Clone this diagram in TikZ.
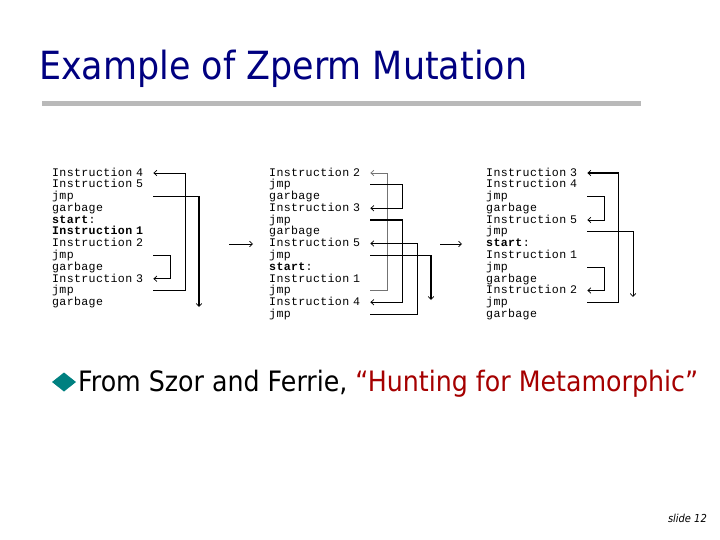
\documentclass[tikz,border=0pt]{standalone}
\usepackage{fontspec}
\usetikzlibrary{arrows.meta}
\newfontfamily\tahoma[FakeStretch=0.9]{DejaVu Sans}
\newfontfamily\codefont[LetterSpace=3]{Liberation Mono}
\definecolor{navy}{RGB}{0,0,128}
\definecolor{tealb}{RGB}{0,128,128}
\definecolor{qred}{RGB}{165,0,0}
\definecolor{sepgray}{RGB}{185,185,185}
\begin{document}
\begin{tikzpicture}[x=1pt,y=-1pt,
  code/.style={anchor=west, inner sep=0pt, text width=101pt, align=left,
    text height=7pt, text depth=0.5pt,
    font=\codefont\fontsize{11.6}{11.6}\selectfont, text=black},
  wire/.style={line width=0.8pt},
  heavy/.style={line width=1.4pt},
  light/.style={line width=0.6pt, black!55},
  barb/.style={-{Straight Barb[length=3pt,width=5.5pt,line width=0.7pt]}}]
\useasboundingbox (0,0) rectangle (720,540);

% title and separator
\node[anchor=base west, inner sep=0pt, text=navy,
  font=\tahoma\fontsize{38.8}{38.8}\selectfont] (title) at (39,80) {Example of Zperm Mutation};
\fill[sepgray] (42,101) rectangle (641,106);

% column 1
\foreach \t [count=\i] in {Instruction 4, Instruction 5, jmp, garbage,
  \textbf{start}:, \textbf{Instruction 1}, Instruction 2, jmp, garbage,
  Instruction 3, jmp, garbage}
  \node[code] (a\i) at (52,{173+11.75*(\i-1)}) {\t};
% column 2
\foreach \t [count=\i] in {Instruction 2, jmp, garbage, Instruction 3, jmp,
  garbage, Instruction 5, jmp, \textbf{start}:, Instruction 1, jmp,
  Instruction 4, jmp}
  \node[code] (b\i) at (269,{173+11.75*(\i-1)}) {\t};
% column 3
\foreach \t [count=\i] in {Instruction 3, Instruction 4, jmp, garbage,
  Instruction 5, jmp, \textbf{start}:, Instruction 1, jmp, garbage,
  Instruction 2, jmp, garbage}
  \node[code] (c\i) at (486,{173+11.75*(\i-1)}) {\t};

% column 1 connectors
\coordinate (ea) at (199,307);
\draw[wire, barb] (a11.east) -- ++(32,0) |- (a1.east);
\draw[heavy, barb] (a3.east) -| (ea);
\draw[wire, barb] (a8.east) -- ++(17,0) |- (a10.east);

% column 2 connectors
\coordinate (eb) at (431,300);
\draw[light, barb] (b11.east) -- ++(17,0) |- (b1.east);
\draw[heavy, barb] (b2.east) -- ++(32,0) |- (b4.east);
\draw[heavy, barb] (b5.east) -- ++(32,0) |- (b12.east);
\draw[wire, barb] (b13.east) -- ++(47,0) |- (b7.east);
\draw[heavy, barb] (b8.east) -| (eb);

% column 3 connectors
\coordinate (ec) at (633,297);
\draw[heavy, barb] (c12.east) -- ++(31,0) |- (c1.east);
\draw[wire, barb] (c3.east) -- ++(17,0) |- (c5.east);
\draw[wire, barb] (c6.east) -| (ec);
\draw[wire, barb] (c9.east) -- ++(17,0) |- (c11.east);

% arrows between columns
\coordinate (s1) at (229,244); \coordinate (t1) at (253,244);
\coordinate (s2) at (440,244); \coordinate (t2) at (462,244);
\draw[wire, barb] (s1) -- (t1);
\draw[wire, barb] (s2) -- (t2);

% bullet
\fill[tealb] (52,382) -- (64,372.5) -- (76,382) -- (64,391.5) -- cycle;
\node[anchor=base west, inner sep=0pt,
  font=\tahoma\fontsize{28.1}{28.1}\selectfont] (bt) at (78,391)
  {From Szor and Ferrie, \textcolor{qred}{“Hunting for Metamorphic”}};

% slide number
\node[anchor=base east, inner sep=0pt,
  font=\tahoma\itshape\fontsize{11}{11}\selectfont] (sn) at (707,522) {slide 12};
\end{tikzpicture}
\end{document}
